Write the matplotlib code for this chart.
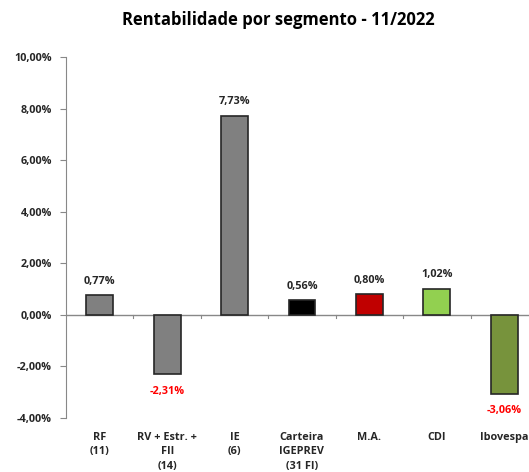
import matplotlib

matplotlib.use("Agg")
import matplotlib.pyplot as plt
import numpy as np
from matplotlib.ticker import FuncFormatter, FixedLocator

categories = ["RF\n(11)", "RV + Estr. +\nFII\n(14)", "IE\n(6)", "Carteira\nIGEPREV\n(31 FI)",
              "M.A.", "CDI", "Ibovespa"]
values = [0.77, -2.31, 7.73, 0.56, 0.80, 1.02, -3.06]
colors = ["#808080", "#808080", "#808080", "#000000", "#C00000", "#92D050", "#77933C"]
y_ticks = [-4, -2, 0, 2, 4, 6, 8, 10]

plt.rcParams["font.family"] = ["Open Sans", "DejaVu Sans"]
FS = 7.8

fig = plt.figure(figsize=(5.29, 4.72), dpi=100)
ax = fig.add_axes([66 / 529, 1 - 418 / 472, 472 / 529, (418 - 57) / 472])

x = np.arange(len(values))
bars = ax.bar(x, values, width=0.4, color=colors, edgecolor="#262626", linewidth=1.2, zorder=3)

ax.set_xlim(-0.5, len(values) - 0.5)
ax.set_ylim(-4, 10)
ax.yaxis.set_major_locator(FixedLocator(y_ticks))
ax.yaxis.set_major_formatter(FuncFormatter(lambda v, p: f"{v:.2f}%".replace(".", ",")))
ax.tick_params(axis="y", labelsize=FS, length=4, color="#888888", pad=6, labelcolor="#262626")
for lbl in ax.get_yticklabels():
    lbl.set_fontweight("bold")

ax.set_xticks([])
for s in ["top", "right", "bottom"]:
    ax.spines[s].set_visible(False)
ax.spines["left"].set_color("#888888")
ax.axhline(0, color="#888888", linewidth=1, zorder=2)
# category separators on the zero line
for b in np.arange(0.5, len(values) - 0.5):
    ax.plot([b, b], [0, -0.12], color="#888888", linewidth=0.8, clip_on=False)

for xi, v in zip(x, values):
    lab = f"{v:.2f}%".replace(".", ",")
    if v >= 0:
        ax.annotate(lab, (xi, v), xytext=(0, 6), textcoords="offset points", ha="center", va="bottom",
                    fontsize=FS, fontweight="bold", color="#262626")
    else:
        ax.annotate(lab, (xi, v), xytext=(0, -8), textcoords="offset points", ha="center", va="top",
                    fontsize=FS, fontweight="bold", color="#FF0000")

for xi, c in zip(x, categories):
    ax.annotate(c, (xi, -4), xytext=(0, -10), textcoords="offset points", ha="center", va="top",
                fontsize=FS, fontweight="bold", color="#262626", linespacing=1.45, annotation_clip=False)

fig.text(278 / 529, 1 - 20 / 472, "Rentabilidade por segmento - 11/2022", ha="center", va="center",
         fontsize=12, fontweight="bold", color="#000000")

fig.savefig("out.png", dpi=100)
